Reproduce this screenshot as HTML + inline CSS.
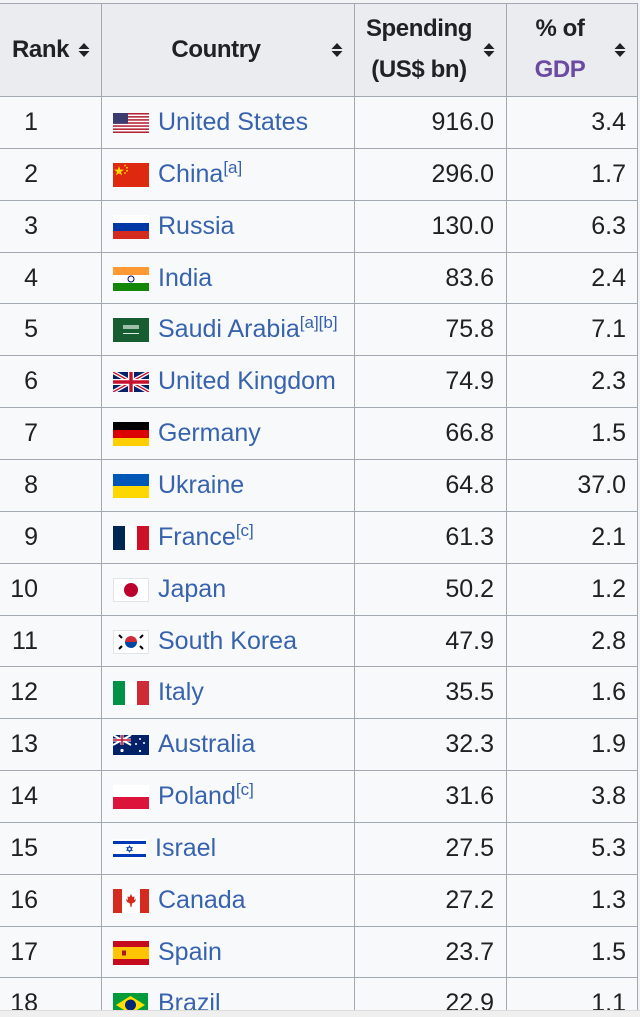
<!DOCTYPE html>
<html><head><meta charset="utf-8">
<style>
html,body{margin:0;padding:0;}
body{width:640px;height:1016px;position:relative;overflow:hidden;background:#f2f3f4;font-family:"Liberation Sans",Arial,sans-serif;color:#202122;}
.tbl{position:absolute;left:0;top:3px;width:638px;height:1007px;background:#f8f9fa;overflow:hidden;}
.hdr{position:absolute;left:0;top:0;width:638px;height:93px;background:#eaecf0;}
.hl{position:absolute;left:0;width:638px;height:1px;background:#a2a9b1;}
.vl{position:absolute;top:0;width:1px;height:1007px;background:#a2a9b1;}
.ht{position:absolute;font-weight:bold;font-size:24px;line-height:24px;letter-spacing:-0.4px;white-space:nowrap;color:#202122;}
.sort{position:absolute;width:12px;height:16px;}
.row{position:absolute;left:0;width:638px;height:52px;font-size:25px;line-height:52px;white-space:nowrap;}
.rk{position:absolute;left:0;width:38px;text-align:right;top:0;}
.fl{position:absolute;left:113px;}
.nm{position:absolute;left:158px;top:0;color:#3763ae;}
.nm sup{font-size:17px;line-height:0;vertical-align:9px;}
.sp{position:absolute;right:144px;top:0;}
.gd{position:absolute;right:12px;top:0;}
.bot{position:absolute;left:0;top:1010px;width:640px;height:6px;background:#efefef;border-top:1px solid #dcdcdc;}
</style></head><body>
<div class="tbl">
  <div class="hdr"></div>
  <div class="ht" style="left:12px;top:35px;">Rank</div>
  <div class="ht" style="left:170px;top:35px;width:92px;text-align:center;">Country</div>
  <div class="ht" style="left:359px;top:14px;width:120px;text-align:center;">Spending</div>
  <div class="ht" style="left:359px;top:55px;width:120px;text-align:center;">(US$ bn)</div>
  <div class="ht" style="left:520px;top:14px;width:80px;text-align:center;">% of</div>
  <div class="ht" style="left:520px;top:55px;width:80px;text-align:center;color:#6b4ba1;">GDP</div>

  <svg class="sort" style="left:78px;top:39px" viewBox="0 0 12 16"><path d="M6 1 L11.5 7 L0.5 7Z M6 15 L11.5 9 L0.5 9Z" fill="#202122"/></svg>
  <svg class="sort" style="left:331px;top:39px" viewBox="0 0 12 16"><path d="M6 1 L11.5 7 L0.5 7Z M6 15 L11.5 9 L0.5 9Z" fill="#202122"/></svg>
  <svg class="sort" style="left:483px;top:39px" viewBox="0 0 12 16"><path d="M6 1 L11.5 7 L0.5 7Z M6 15 L11.5 9 L0.5 9Z" fill="#202122"/></svg>
  <svg class="sort" style="left:614px;top:39px" viewBox="0 0 12 16"><path d="M6 1 L11.5 7 L0.5 7Z M6 15 L11.5 9 L0.5 9Z" fill="#202122"/></svg>

  <!-- rows: top relative to .tbl = absTop - 3 -->
  <div class="row" style="top:93px">
    <div class="rk">1</div>
    <svg class="fl" style="top:17px" width="36" height="20" viewBox="0 0 36 20"><rect width="36" height="20" fill="#fff"/><g fill="#b22234"><rect y="0" width="36" height="1.54"/><rect y="3.08" width="36" height="1.54"/><rect y="6.15" width="36" height="1.54"/><rect y="9.23" width="36" height="1.54"/><rect y="12.3" width="36" height="1.54"/><rect y="15.4" width="36" height="1.54"/><rect y="18.46" width="36" height="1.54"/></g><rect width="15" height="10.8" fill="#3c3b6e"/></svg>
    <div class="nm">United States</div><div class="sp">916.0</div><div class="gd">3.4</div>
  </div>
  <div class="row" style="top:144.85px">
    <div class="rk">2</div>
    <svg class="fl" style="top:15px" width="36" height="24" viewBox="0 0 36 24"><rect width="36" height="24" fill="#de2910"/><path d="M6 3 L7.2 6.6 L11 6.6 L7.9 8.8 L9.1 12.4 L6 10.2 L2.9 12.4 L4.1 8.8 L1 6.6 L4.8 6.6Z" fill="#ffde00"/><g fill="#ffde00"><circle cx="12" cy="2.5" r="0.9"/><circle cx="14" cy="4.8" r="0.9"/><circle cx="14" cy="7.8" r="0.9"/><circle cx="12" cy="10" r="0.9"/></g></svg>
    <div class="nm">China<sup>[a]</sup></div><div class="sp">296.0</div><div class="gd">1.7</div>
  </div>
  <div class="row" style="top:196.7px">
    <div class="rk">3</div>
    <svg class="fl" style="top:15px" width="36" height="24" viewBox="0 0 36 24"><rect width="36" height="8" fill="#fff"/><rect y="8" width="36" height="8" fill="#0039a6"/><rect y="16" width="36" height="8" fill="#d52b1e"/></svg>
    <div class="nm">Russia</div><div class="sp">130.0</div><div class="gd">6.3</div>
  </div>
  <div class="row" style="top:248.55px">
    <div class="rk">4</div>
    <svg class="fl" style="top:15px" width="36" height="24" viewBox="0 0 36 24"><rect width="36" height="8" fill="#ff9933"/><rect y="8" width="36" height="8" fill="#fff"/><rect y="16" width="36" height="8" fill="#138808"/><circle cx="18" cy="12" r="3" fill="none" stroke="#000080" stroke-width="1"/></svg>
    <div class="nm">India</div><div class="sp">83.6</div><div class="gd">2.4</div>
  </div>
  <div class="row" style="top:300.4px">
    <div class="rk">5</div>
    <svg class="fl" style="top:15px" width="36" height="24" viewBox="0 0 36 24"><rect width="36" height="24" fill="#165d31"/><rect x="10" y="7" width="16" height="4" fill="#9fbfa8"/><rect x="10" y="15" width="16" height="1" fill="#e0ece3"/></svg>
    <div class="nm">Saudi Arabia<sup>[a][b]</sup></div><div class="sp">75.8</div><div class="gd">7.1</div>
  </div>
  <div class="row" style="top:352.25px">
    <div class="rk">6</div>
    <svg class="fl" style="top:17px" width="36" height="20" viewBox="0 0 36 20"><rect width="36" height="20" fill="#012169"/><path d="M0 0 L36 20 M36 0 L0 20" stroke="#fff" stroke-width="4"/><path d="M0 0 L36 20 M36 0 L0 20" stroke="#c8102e" stroke-width="1.4"/><path d="M18 0 V20 M0 10 H36" stroke="#fff" stroke-width="6"/><path d="M18 0 V20 M0 10 H36" stroke="#c8102e" stroke-width="3.4"/></svg>
    <div class="nm">United Kingdom</div><div class="sp">74.9</div><div class="gd">2.3</div>
  </div>
  <div class="row" style="top:404.1px">
    <div class="rk">7</div>
    <svg class="fl" style="top:15px" width="36" height="24" viewBox="0 0 36 24"><rect width="36" height="8" fill="#000"/><rect y="8" width="36" height="8" fill="#dd0000"/><rect y="16" width="36" height="8" fill="#ffce00"/></svg>
    <div class="nm">Germany</div><div class="sp">66.8</div><div class="gd">1.5</div>
  </div>
  <div class="row" style="top:455.95px">
    <div class="rk">8</div>
    <svg class="fl" style="top:15px" width="36" height="24" viewBox="0 0 36 24"><rect width="36" height="12" fill="#0057b7"/><rect y="12" width="36" height="12" fill="#ffd700"/></svg>
    <div class="nm">Ukraine</div><div class="sp">64.8</div><div class="gd">37.0</div>
  </div>
  <div class="row" style="top:507.8px">
    <div class="rk">9</div>
    <svg class="fl" style="top:15px" width="36" height="24" viewBox="0 0 36 24"><rect width="12" height="24" fill="#002654"/><rect x="12" width="12" height="24" fill="#fff"/><rect x="24" width="12" height="24" fill="#ce1126"/></svg>
    <div class="nm">France<sup>[c]</sup></div><div class="sp">61.3</div><div class="gd">2.1</div>
  </div>
  <div class="row" style="top:559.65px">
    <div class="rk">10</div>
    <svg class="fl" style="top:15px" width="36" height="24" viewBox="0 0 36 24"><rect x="0.5" y="0.5" width="35" height="23" fill="#fff" stroke="#e2e4e6"/><circle cx="18" cy="12" r="7" fill="#bc002d"/></svg>
    <div class="nm">Japan</div><div class="sp">50.2</div><div class="gd">1.2</div>
  </div>
  <div class="row" style="top:611.5px">
    <div class="rk">11</div>
    <svg class="fl" style="top:15px" width="36" height="24" viewBox="0 0 36 24"><rect x="0.5" y="0.5" width="35" height="23" fill="#fff" stroke="#e2e4e6"/><path d="M12 12 A6 6 0 0 1 24 12Z" fill="#cd2e3a"/><path d="M12 12 A6 6 0 0 0 24 12Z" fill="#0047a0"/><g stroke="#000" stroke-width="2"><path d="M6 5 L9 8"/><path d="M27 8 L30 5"/><path d="M6 19 L9 16"/><path d="M27 16 L30 19"/></g></svg>
    <div class="nm">South Korea</div><div class="sp">47.9</div><div class="gd">2.8</div>
  </div>
  <div class="row" style="top:663.35px">
    <div class="rk">12</div>
    <svg class="fl" style="top:15px" width="36" height="24" viewBox="0 0 36 24"><rect width="12" height="24" fill="#009246"/><rect x="12" width="12" height="24" fill="#fff"/><rect x="24" width="12" height="24" fill="#ce2b37"/></svg>
    <div class="nm">Italy</div><div class="sp">35.5</div><div class="gd">1.6</div>
  </div>
  <div class="row" style="top:715.2px">
    <div class="rk">13</div>
    <svg class="fl" style="top:17px" width="36" height="20" viewBox="0 0 36 20"><rect width="36" height="20" fill="#012169"/><g><path d="M0 0 L18 10 M18 0 L0 10" stroke="#fff" stroke-width="2"/><path d="M9 0 V10 M0 5 H18" stroke="#fff" stroke-width="3"/><path d="M9 0 V10 M0 5 H18" stroke="#c8102e" stroke-width="1.6"/></g><g fill="#fff"><circle cx="9" cy="15.5" r="1.6"/><circle cx="27" cy="4" r="1"/><circle cx="23" cy="9" r="1"/><circle cx="31" cy="8" r="1"/><circle cx="27" cy="16" r="1.1"/></g></svg>
    <div class="nm">Australia</div><div class="sp">32.3</div><div class="gd">1.9</div>
  </div>
  <div class="row" style="top:767.05px">
    <div class="rk">14</div>
    <svg class="fl" style="top:15px" width="36" height="24" viewBox="0 0 36 24"><rect width="36" height="12" fill="#fff"/><rect y="12" width="36" height="12" fill="#dc143c"/></svg>
    <div class="nm">Poland<sup>[c]</sup></div><div class="sp">31.6</div><div class="gd">3.8</div>
  </div>
  <div class="row" style="top:818.9px">
    <div class="rk">15</div>
    <svg class="fl" style="top:17px" width="33" height="20" viewBox="0 0 33 20"><rect width="33" height="20" fill="#fff"/><rect y="2" width="33" height="3" fill="#0038b8"/><rect y="15" width="33" height="3" fill="#0038b8"/><path d="M16.5 6.8 L19.2 11.5 L13.8 11.5Z M16.5 13.2 L19.2 8.5 L13.8 8.5Z" fill="none" stroke="#0038b8" stroke-width="0.8"/></svg>
    <div class="nm" style="left:155px">Israel</div><div class="sp">27.5</div><div class="gd">5.3</div>
  </div>
  <div class="row" style="top:870.75px">
    <div class="rk">16</div>
    <svg class="fl" style="top:15px" width="36" height="24" viewBox="0 0 36 24"><rect width="36" height="24" fill="#fff"/><rect width="9" height="24" fill="#d52b1e"/><rect x="27" width="9" height="24" fill="#d52b1e"/><path d="M18 5 L19.5 8 L21.5 7.5 L21 11 L23 10 L22 13 L19 14.5 L18.5 18 L17.5 18 L17 14.5 L14 13 L13 10 L15 11 L14.5 7.5 L16.5 8Z" fill="#d52b1e"/></svg>
    <div class="nm">Canada</div><div class="sp">27.2</div><div class="gd">1.3</div>
  </div>
  <div class="row" style="top:922.6px">
    <div class="rk">17</div>
    <svg class="fl" style="top:15px" width="36" height="24" viewBox="0 0 36 24"><rect width="36" height="24" fill="#c60b1e"/><rect y="6" width="36" height="12" fill="#ffc400"/><rect x="9" y="9.5" width="4" height="5" fill="#ad1519"/></svg>
    <div class="nm">Spain</div><div class="sp">23.7</div><div class="gd">1.5</div>
  </div>
  <div class="row" style="top:974.45px">
    <div class="rk">18</div>
    <svg class="fl" style="top:16px" width="35" height="24" viewBox="0 0 35 24"><rect width="35" height="24" fill="#009c3b"/><path d="M17.5 3 L32 12 L17.5 21 L3 12Z" fill="#ffdf00"/><circle cx="17.5" cy="12" r="5.5" fill="#002776"/></svg>
    <div class="nm">Brazil</div><div class="sp">22.9</div><div class="gd">1.1</div>
  </div>

  <!-- horizontal lines -->
  <div class="hl" style="top:0"></div>
  <div class="hl" style="top:93px"></div>
  <div class="hl" style="top:144.85px"></div>
  <div class="hl" style="top:196.7px"></div>
  <div class="hl" style="top:248.55px"></div>
  <div class="hl" style="top:300.4px"></div>
  <div class="hl" style="top:352.25px"></div>
  <div class="hl" style="top:404.1px"></div>
  <div class="hl" style="top:455.95px"></div>
  <div class="hl" style="top:507.8px"></div>
  <div class="hl" style="top:559.65px"></div>
  <div class="hl" style="top:611.5px"></div>
  <div class="hl" style="top:663.35px"></div>
  <div class="hl" style="top:715.2px"></div>
  <div class="hl" style="top:767.05px"></div>
  <div class="hl" style="top:818.9px"></div>
  <div class="hl" style="top:870.75px"></div>
  <div class="hl" style="top:922.6px"></div>
  <div class="hl" style="top:974.45px"></div>
  <!-- vertical lines -->
  <div class="vl" style="left:101px"></div>
  <div class="vl" style="left:354px"></div>
  <div class="vl" style="left:506px"></div>
  <div class="vl" style="left:637px"></div>
</div>
<div class="bot"></div>
</body></html>
